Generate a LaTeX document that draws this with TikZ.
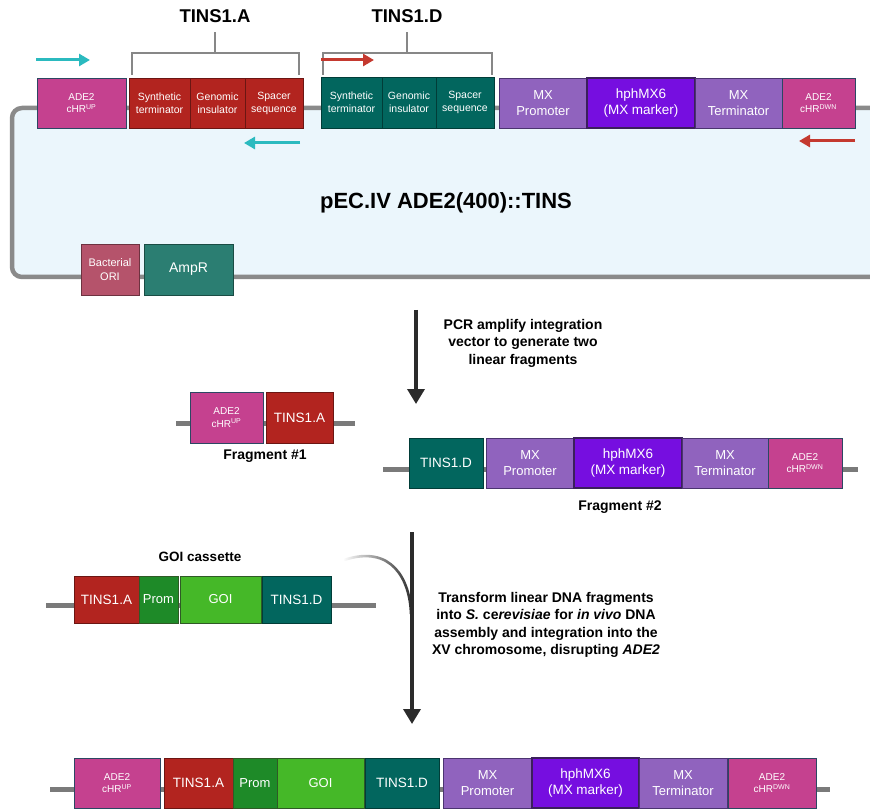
\documentclass[tikz,border=0pt]{standalone}
\usepackage{fontspec}
\setmainfont{Liberation Sans}
\usetikzlibrary{arrows.meta,fadings}
\definecolor{cMag}{HTML}{C5418F}
\definecolor{cMagB}{HTML}{2C4763}
\definecolor{cRed}{HTML}{B2241F}
\definecolor{cTeal}{HTML}{02665E}
\definecolor{cMX}{HTML}{9063BE}
\definecolor{cMXB}{HTML}{4B3470}
\definecolor{cHph}{HTML}{760EE0}
\definecolor{cHphB}{HTML}{3B1F5C}
\definecolor{cProm}{HTML}{1E8A28}
\definecolor{cGOI}{HTML}{45B828}
\definecolor{cGrB}{HTML}{2F5A26}
\definecolor{cOri}{HTML}{B5536B}
\definecolor{cAmp}{HTML}{2B7E72}
\definecolor{cPlas}{HTML}{EBF6FC}
\definecolor{cPlasL}{HTML}{8A8A8A}
\definecolor{cDNA}{HTML}{7A7A7A}
\definecolor{cCyan}{HTML}{2BBABF}
\definecolor{cArR}{HTML}{C4392F}
\definecolor{cDark}{HTML}{2B2B2B}
\tikzfading[name=fadein, left color=transparent!100, right color=transparent!0]
\newcommand\mybox[7]{\node[#6, anchor=north west, minimum width={(#4)-(#2)}, minimum height={(#5)-(#3)}] (#1) at (#2,#3) {#7};}
\tikzset{
  blk/.style={draw, line width=0.8pt, inner sep=0.5pt, outer sep=0pt, align=center, text=white},
  ade/.style={blk, fill=cMag, draw=cMagB, font=\fontsize{10}{12.5}\selectfont},
  tinsS/.style={blk, font=\fontsize{10.5}{13}\selectfont},
  redS/.style={tinsS, fill=cRed, draw=cRed!60!black},
  tealS/.style={tinsS, fill=cTeal, draw=cTeal!60!black},
  mxS/.style={blk, fill=cMX, draw=cMXB, font=\fontsize{13}{16}\selectfont},
  hphS/.style={blk, fill=cHph, draw=cHphB, line width=1.3pt, font=\fontsize{13.5}{16}\selectfont},
  redB/.style={blk, fill=cRed, draw=cRed!60!black, font=\fontsize{13.5}{16}\selectfont},
  tealB/.style={blk, fill=cTeal, draw=cTeal!60!black, font=\fontsize{13.5}{16}\selectfont},
  promS/.style={blk, fill=cProm, draw=cGrB, font=\fontsize{13}{16}\selectfont},
  goiS/.style={blk, fill=cGOI, draw=cGrB, font=\fontsize{13}{16}\selectfont},
  dna/.style={draw=cDNA, line width=5pt},
  brk/.style={draw=cDNA!90, line width=2.5pt},
  primer/.style={line width=3pt, -{Triangle[width=12pt,length=11pt]}},
  bigarrow/.style={draw=cDark, line width=3.5pt, -{Triangle[width=17pt,length=15pt]}},
  lbl/.style={font=\bfseries\fontsize{14}{17.5}\selectfont, align=center, text=black}
}
\begin{document}
\begin{tikzpicture}[x=1pt,y=-1pt]
\useasboundingbox (0,0) rectangle (870,810);
% plasmid
\draw[draw=cPlasL, fill=cPlas, line width=4.5pt, rounded corners=10pt] (880,108) -- (12,108) -- (12,277) -- (880,277);
% brackets
\draw[brk] (132,75) -- (132,53) -- (299,53) -- (299,75);
\draw[brk] (215,53) -- (215,32);
\draw[brk] (323,75) -- (323,53) -- (492,53) -- (492,75);
\draw[brk] (407,53) -- (407,32);
\node[font=\bfseries\fontsize{18.5}{20}\selectfont] (tA) at (215,16) {TINS1.A};
\node[font=\bfseries\fontsize{18.5}{20}\selectfont] (tD) at (407,16) {TINS1.D};
% top row boxes
\mybox{adeUp}{37}{78}{126}{128}{ade}{ADE2\\cHR\textsuperscript{UP}}
\mybox{aSyn}{129}{78}{190}{128}{redS}{Synthetic\\terminator}
\mybox{aGen}{190}{78}{245}{128}{redS}{Genomic\\insulator}
\mybox{aSpa}{245}{78}{303}{128}{redS}{Spacer\\sequence}
\mybox{dSyn}{321}{77}{382}{128}{tealS}{Synthetic\\terminator}
\mybox{dGen}{382}{77}{436}{128}{tealS}{Genomic\\insulator}
\mybox{dSpa}{436}{77}{494}{128}{tealS}{Spacer\\sequence}
\mybox{mxP}{499}{78}{587}{128}{mxS}{MX\\Promoter}
\mybox{hph}{587}{78}{695}{128}{hphS}{hphMX6\\(MX marker)}
\mybox{mxT}{695}{78}{782}{128}{mxS}{MX\\Terminator}
\mybox{adeDn}{782}{78}{855}{128}{ade}{ADE2\\cHR\textsuperscript{DWN}}
% primers
\coordinate (p1s) at (36,60); \coordinate (p1e) at (90,60);
\coordinate (p2s) at (321,60); \coordinate (p2e) at (374,60);
\coordinate (p3s) at (300,143); \coordinate (p3e) at (244,143);
\coordinate (p4s) at (855,141); \coordinate (p4e) at (799,141);
\draw[primer, cCyan] (p1s) -- (p1e);
\draw[primer, cArR] (p2s) -- (p2e);
\draw[primer, cCyan] (p3s) -- (p3e);
\draw[primer, cArR] (p4s) -- (p4e);
\node[font=\bfseries\fontsize{22}{24}\selectfont] (title) at (446,203) {pEC.IV ADE2(400)::TINS};
\mybox{ori}{81}{244}{139}{295}{blk, fill=cOri, draw=cOri!60!black, font=\fontsize{11}{14}\selectfont}{Bacterial\\ORI}
\mybox{amp}{144}{244}{233}{295}{blk, fill=cAmp, draw=cAmp!60!black, font=\fontsize{14}{16}\selectfont}{AmpR}
% step 1
\coordinate (a1s) at (416,310); \coordinate (a1e) at (416,404);
\draw[bigarrow] (a1s) -- (a1e);
\node[lbl] (t1) at (523,343) {PCR amplify integration\\vector to generate two\\linear fragments};
% fragment 1
\coordinate (f1l) at (176,423); \coordinate (f1r) at (355,423);
\draw[dna] (f1l) -- (f1r);
\mybox{f1ade}{190}{392}{263}{443}{ade}{ADE2\\cHR\textsuperscript{UP}}
\mybox{f1A}{266}{392}{333}{443}{redB}{TINS1.A}
\node[font=\bfseries\fontsize{14}{16}\selectfont] (fr1) at (265,456) {Fragment \#1};
% fragment 2
\coordinate (f2l) at (383,469); \coordinate (f2r) at (858,469);
\draw[dna] (f2l) -- (f2r);
\mybox{f2D}{409}{438}{483}{488}{tealB}{TINS1.D}
\mybox{f2mxP}{486}{438}{574}{488}{mxS}{MX\\Promoter}
\mybox{f2hph}{574}{438}{682}{488}{hphS}{hphMX6\\(MX marker)}
\mybox{f2mxT}{682}{438}{768}{488}{mxS}{MX\\Terminator}
\mybox{f2ade}{768}{438}{842}{488}{ade}{ADE2\\cHR\textsuperscript{DWN}}
\node[font=\bfseries\fontsize{14}{16}\selectfont] (fr2) at (620,507) {Fragment \#2};
% GOI cassette
\node[font=\bfseries\fontsize{13.5}{16}\selectfont] (goiT) at (200,557) {GOI cassette};
\coordinate (gl) at (46,605); \coordinate (gr) at (376,605);
\draw[dna] (gl) -- (gr);
\mybox{gA}{74}{576}{139}{623}{redB}{TINS1.A}
\mybox{gP}{139}{576}{178}{623}{promS}{Prom}
\mybox{gG}{180}{576}{261}{623}{goiS}{GOI}
\mybox{gD}{262}{576}{331}{623}{tealB}{TINS1.D}
% step 2
\coordinate (a2s) at (412,532); \coordinate (a2e) at (412,724);
\coordinate (cvs) at (344,560); \coordinate (cve) at (411,614);
\draw[cDark, line width=2.6pt, path fading=fadein] (cvs) .. controls (392,544) and (410,580) .. (cve);
\draw[bigarrow] (a2s) -- (a2e);
\node[lbl] (t2) at (546,625) {Transform linear DNA fragments\\into \textit{S.} ce\textit{revisiae} for \textit{in vivo} DNA\\assembly and integration into the\\XV chromosome, disrupting \textit{ADE2}};
% final row
\coordinate (fl) at (50,789); \coordinate (fr) at (830,789);
\draw[dna] (fl) -- (fr);
\mybox{zade}{74}{758}{160}{808}{ade}{ADE2\\cHR\textsuperscript{UP}}
\mybox{zA}{164}{758}{233}{808}{redB}{TINS1.A}
\mybox{zP}{233}{758}{277}{808}{promS}{Prom}
\mybox{zG}{277}{758}{364}{808}{goiS}{GOI}
\mybox{zD}{365}{758}{439}{808}{tealB}{TINS1.D}
\mybox{zmxP}{443}{758}{532}{808}{mxS}{MX\\Promoter}
\mybox{zhph}{532}{758}{639}{808}{hphS}{hphMX6\\(MX marker)}
\mybox{zmxT}{639}{758}{727}{808}{mxS}{MX\\Terminator}
\mybox{zadeD}{728}{758}{816}{808}{ade}{ADE2\\cHR\textsuperscript{DWN}}
\end{tikzpicture}
\end{document}
